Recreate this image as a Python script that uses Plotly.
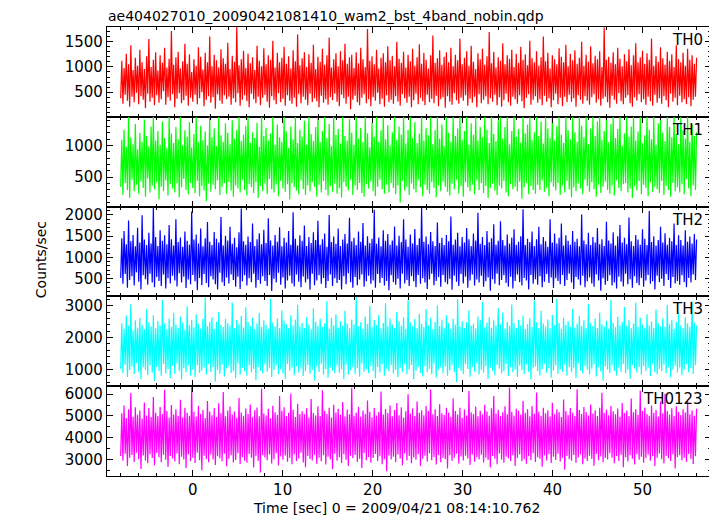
import numpy as np
import plotly.graph_objects as go
from plotly.subplots import make_subplots

# ---------------- data (counts/sec) ----------------
t_start = -8.0
t_end = 56.0

TH0 = [380, 1120, 270, 980, 450, 1260, 330, 1050, 210, 1430, 410, 940, 300, 1180, 490, 1020,
       260, 1340, 420, 1090, 350, 960, 180, 1210, 470, 1550, 310, 1000, 390, 1140, 240, 1290,
       440, 930, 290, 1230, 360, 1080, 520, 1380, 250, 990, 400, 1160, 330, 1710, 460, 1040,
       200, 1190, 370, 1300, 480, 970, 280, 1110, 340, 1460, 430, 1060, 230, 1250, 390, 900,
       310, 1150, 450, 1020, 260, 1390, 380, 1200, 500, 950, 220, 1280, 350, 1090, 420, 1600,
       290, 1010, 400, 1240, 170, 1130, 460, 990, 330, 1350, 270, 1170, 440, 1060, 360, 1480,
       410, 960, 250, 1220, 380, 1100, 300, 1790, 480, 1030, 230, 1150, 350, 1320, 440, 980,
       320, 1260, 200, 1070, 470, 1190, 360, 940, 280, 1420, 410, 1120, 240, 1010, 390, 1370,
       450, 1050, 310, 1230, 190, 1140, 420, 1520, 340, 990, 260, 1280, 480, 1090, 300, 1180,
       370, 1400, 230, 1060, 440, 1210, 330, 970, 270, 1330, 390, 1110, 210, 1640, 460, 1030,
       280, 1170, 410, 1290, 350, 1000, 240, 1250, 470, 1080, 300, 1440, 380, 960, 320, 1200,
       200, 1100, 430, 1360, 290, 1040, 360, 1230, 250, 1580, 400, 990, 340, 1150, 470, 1270,
       310, 1010, 220, 1310, 450, 1130, 380, 1460, 270, 1060, 410, 1190, 160, 1240, 350, 980,
       430, 1290, 300, 1070, 240, 1380, 390, 1150, 460, 1000, 280, 1750, 360, 1120, 220, 1210,
       400, 1050, 330, 1340, 490, 970, 260, 1180, 370, 1270, 210, 1090, 440, 1410, 300, 1130,
       350, 1220, 270, 1010, 420, 1500, 310, 1160, 230, 1080, 460, 1300, 380, 990, 290, 1240,
       410, 1110, 200, 1360, 340, 1020, 470, 1190, 260, 1450, 390, 1060, 320, 1280, 240, 1140,
       450, 970, 300, 1230, 370, 1620, 280, 1080, 430, 1170, 220, 1330, 360, 1040, 400, 1200,
       190, 1290, 420, 1090, 310, 1380, 250, 1010, 480, 1240, 340, 1130, 270, 1560, 390, 1050,
       330, 1180, 440, 1310, 230, 1020, 370, 1420, 290, 1100, 410, 960, 200, 1270, 460, 1150,
       280, 1360, 350, 1040, 420, 1210, 260, 1690, 380, 1070, 310, 1300, 450, 990, 240, 1190,
       400, 1120, 210, 1470, 340, 1050, 470, 1230, 300, 1160, 230, 1340, 410, 1000, 360, 1260,
       270, 1080, 440, 1400, 320, 1140, 180, 1250, 390, 1030, 460, 1520, 250, 1170, 350, 1090,
       420, 1310, 290, 1020, 360, 1190, 240, 1600, 430, 1110, 310, 1280, 380, 970, 200, 1230,
       340, 1150, 470, 1050, 260, 1370, 390, 1200, 220, 1090, 410, 1440, 300, 1010, 450, 1260,
       310, 1130, 380, 1330, 210, 1060, 440, 1180, 350, 1500, 270, 1020, 420, 1240, 330, 1100,
       250, 1410, 400, 1070, 460, 1220, 290, 1150, 360, 1310, 230, 1000, 370, 1780, 410, 1140,
       300, 1200, 190, 1080, 430, 1290, 350, 1050, 270, 1380, 480, 1160, 320, 1010, 260, 1250,
       390, 1110, 440, 1350, 280, 1030, 210, 1230, 400, 1470, 330, 1090, 460, 1190, 300, 1320,
       360, 1060, 250, 1270, 410, 1140, 320, 1560, 230, 1020, 450, 1210, 290, 1100, 380, 1390,
       270, 1170, 420, 1040, 340, 1300, 200, 1120, 470, 1250, 310, 1000, 390, 1430, 240, 1150,
       430, 1090, 300, 1280, 360, 1020, 260, 1360, 400, 1140, 220, 1230, 350, 1060, 410, 1180]

TH1 = [350, 1090, 220, 1250, 410, 980, 300, 1460, 170, 1130, 460, 1020, 280, 1340, 380, 940,
       240, 1200, 430, 1060, 330, 1410, 190, 1150, 480, 990, 260, 1300, 370, 1460, 310, 1080,
       420, 1230, 150, 1010, 350, 1380, 280, 1120, 450, 960, 210, 1460, 390, 1190, 320, 1040,
       260, 1290, 400, 1100, 180, 1460, 340, 1000, 470, 1240, 300, 1140, 230, 1370, 410, 970,
       330, 1180, 250, 1460, 440, 1050, 200, 1310, 360, 1090, 290, 1220, 120, 1000, 400, 1460,
       270, 1130, 380, 1270, 310, 990, 450, 1460, 220, 1160, 350, 1060, 410, 1350, 240, 1200,
       430, 1020, 290, 1400, 190, 1110, 370, 1250, 320, 1460, 260, 1070, 460, 1170, 300, 1310,
       210, 1460, 390, 1040, 340, 1210, 250, 1120, 420, 1360, 170, 980, 360, 1460, 280, 1150,
       400, 1280, 230, 1080, 470, 1190, 310, 1460, 260, 1010, 380, 1330, 200, 1130, 440, 1060,
       320, 1460, 270, 1220, 390, 960, 150, 1300, 410, 1100, 340, 1460, 290, 1040, 230, 1250,
       450, 1140, 310, 1390, 220, 1010, 370, 1460, 280, 1180, 420, 1070, 350, 1290, 190, 1460,
       380, 1050, 260, 1230, 440, 1460, 300, 1120, 210, 1340, 360, 990, 270, 1460, 400, 1170,
       240, 1260, 330, 1030, 180, 1460, 420, 1150, 350, 1080, 290, 1420, 460, 1200, 220, 1010,
       370, 1460, 300, 1110, 410, 1280, 250, 1050, 190, 1460, 390, 1190, 320, 970, 430, 1360,
       280, 1140, 200, 1460, 350, 1060, 460, 1240, 310, 1460, 240, 1100, 380, 1320, 260, 1000,
       410, 1210, 330, 1460, 230, 1090, 370, 1300, 100, 1170, 440, 1460, 290, 1030, 350, 1250,
       220, 1460, 400, 1120, 310, 1370, 260, 1040, 450, 1190, 340, 1460, 200, 1080, 380, 1280,
       300, 1160, 240, 1460, 420, 1020, 330, 1240, 180, 1460, 370, 1110, 280, 1330, 430, 990,
       350, 1460, 270, 1200, 210, 1060, 400, 1460, 310, 1150, 460, 1270, 240, 1460, 360, 1090,
       190, 1230, 420, 1460, 340, 1010, 280, 1350, 380, 1170, 230, 1460, 450, 1080, 300, 1290,
       410, 1130, 250, 1460, 360, 1250, 170, 1040, 330, 1460, 400, 1180, 290, 1070, 220, 1400,
       370, 1460, 320, 1110, 440, 1290, 260, 1460, 200, 1020, 390, 1230, 310, 1460, 350, 1140,
       280, 1260, 430, 1050, 160, 1460, 340, 1190, 410, 1330, 230, 1460, 360, 1090, 300, 1210,
       240, 1460, 380, 1150, 300, 1380, 450, 1030, 270, 1460, 330, 1270, 200, 1120, 420, 1460,
       350, 1080, 290, 1300, 410, 1460, 220, 1170, 370, 1040, 260, 1460, 440, 1240, 310, 1100,
       180, 1460, 340, 1210, 280, 1060, 400, 1460, 320, 1310, 230, 1130, 460, 1460, 360, 1020,
       270, 1270, 420, 1460, 310, 1150, 190, 1380, 380, 1460, 250, 1090, 350, 1230, 430, 1460,
       300, 1050, 240, 1340, 370, 1460, 210, 1120, 450, 1260, 330, 1460, 280, 1000, 390, 1190,
       410, 1460, 260, 1140, 320, 1300, 170, 1460, 360, 1080, 290, 1220, 440, 1460, 230, 1040,
       380, 1160, 330, 1460, 200, 1250, 420, 1100, 270, 1460, 350, 1010, 310, 1350, 250, 1460,
       440, 1200, 220, 1070, 360, 1460, 300, 1290, 190, 1130, 410, 1460, 280, 1180, 340, 1020,
       260, 1460, 390, 1240, 230, 1110, 470, 1460, 320, 1060, 200, 1330, 370, 1150, 300, 1210]

TH2 = [520, 1450, 380, 1620, 610, 1310, 290, 1870, 470, 1380, 560, 1530, 340, 1260, 650, 1700,
       430, 1350, 250, 1990, 580, 1420, 490, 1290, 360, 1580, 620, 1330, 410, 2190, 300, 1480,
       540, 1270, 450, 1640, 330, 1390, 600, 1520, 270, 1310, 510, 1760, 390, 1430, 570, 1280,
       460, 1900, 320, 1360, 630, 1470, 410, 1250, 550, 1610, 280, 1390, 480, 1300, 370, 2080,
       590, 1420, 440, 1540, 230, 1330, 520, 1680, 350, 1260, 610, 1450, 400, 1830, 300, 1370,
       560, 1290, 480, 1600, 370, 1440, 250, 1350, 640, 1950, 420, 1280, 330, 1510, 530, 1400,
       390, 1720, 600, 1320, 470, 1460, 310, 1240, 550, 1590, 260, 2150, 440, 1380, 580, 1300,
       340, 1490, 510, 1360, 420, 1800, 620, 1270, 290, 1430, 470, 1570, 380, 1310, 560, 1650,
       450, 1340, 330, 1920, 590, 1400, 210, 1280, 500, 1530, 410, 1370, 640, 1710, 360, 1260,
       530, 1460, 270, 1350, 460, 1620, 570, 1300, 390, 2060, 320, 1440, 600, 1280, 430, 1520,
       300, 1390, 550, 1750, 410, 1270, 490, 1480, 240, 1340, 620, 1590, 350, 1410, 460, 1860,
       580, 1300, 380, 1430, 520, 1560, 280, 1250, 450, 2000, 600, 1360, 330, 1490, 510, 1320,
       400, 1680, 470, 1270, 250, 1420, 560, 1550, 370, 1330, 630, 1930, 420, 1380, 290, 1460,
       540, 1290, 350, 1610, 480, 1370, 600, 1810, 310, 1280, 440, 1500, 570, 1340, 380, 1440,
       460, 2120, 290, 1320, 610, 1470, 400, 1260, 520, 1640, 340, 1390, 450, 1550, 230, 1300,
       580, 1400, 420, 1730, 360, 1280, 500, 1510, 270, 1360, 620, 1900, 390, 1420, 470, 1250,
       330, 1540, 560, 1330, 440, 1670, 300, 1290, 590, 1450, 380, 2170, 510, 1370, 410, 1490,
       260, 1310, 480, 1600, 620, 1380, 350, 1270, 450, 1820, 540, 1340, 310, 1460, 590, 1290,
       420, 1530, 370, 1380, 500, 1960, 240, 1300, 570, 1420, 430, 1580, 330, 1260, 610, 1480,
       390, 1350, 550, 1690, 290, 1430, 460, 1270, 600, 1560, 340, 1400, 480, 2050, 410, 1320,
       570, 1480, 310, 1290, 440, 1620, 530, 1360, 220, 1450, 490, 1780, 380, 1300, 620, 1390,
       350, 1850, 470, 1410, 580, 1280, 400, 1540, 310, 1330, 550, 1470, 270, 1660, 450, 1300,
       600, 1370, 420, 1500, 340, 2130, 520, 1290, 460, 1440, 250, 1360, 590, 1610, 380, 1270,
       490, 1430, 360, 1720, 560, 1310, 300, 1480, 430, 1380, 610, 1250, 400, 1900, 530, 1350,
       280, 1560, 510, 1330, 450, 1460, 370, 1800, 590, 1280, 330, 1520, 470, 1390, 620, 1300,
       410, 1620, 260, 1370, 540, 1440, 480, 1260, 350, 2010, 570, 1400, 300, 1310, 440, 1580,
       530, 1290, 390, 1480, 310, 1350, 600, 1690, 460, 1310, 220, 1430, 510, 1270, 360, 1840,
       450, 1400, 580, 1330, 340, 1590, 410, 1280, 270, 1500, 550, 1760, 430, 1350, 320, 1460,
       620, 1310, 370, 1940, 490, 1380, 290, 1270, 560, 1530, 400, 1420, 350, 1300, 520, 1660,
       310, 1440, 460, 1290, 590, 2090, 380, 1360, 440, 1500, 250, 1280, 570, 1410, 420, 1720,
       500, 1350, 330, 1570, 610, 1300, 470, 1460, 280, 1380, 540, 1800, 390, 1290, 450, 1520,
       360, 1410, 580, 1280, 420, 1640, 300, 1370, 520, 1490, 410, 1330, 600, 1550, 470, 1420]

TH3 = [1020, 2450, 880, 2280, 1150, 2690, 760, 2370, 980, 3050, 1090, 2230, 850, 2540, 1200, 2310,
       930, 2620, 700, 2400, 1060, 2260, 990, 2890, 820, 2480, 1130, 2350, 900, 2700, 640, 2290,
       1080, 2520, 950, 2380, 790, 3180, 1170, 2440, 870, 2260, 1010, 2600, 730, 2340, 1110, 2780,
       860, 2410, 1190, 2300, 960, 2650, 680, 2470, 1040, 2250, 910, 2980, 1120, 2390, 810, 2560,
       1000, 2320, 750, 2730, 1140, 2430, 890, 2280, 970, 2580, 1060, 3260, 840, 2360, 1180, 2490,
       920, 2640, 1070, 2270, 620, 2500, 990, 2810, 860, 2400, 1150, 2330, 780, 2590, 1030, 2460,
       1100, 2380, 890, 3100, 960, 2290, 720, 2550, 1190, 2420, 830, 2680, 1050, 2310, 940, 2950,
       800, 2500, 1130, 2360, 900, 2620, 1010, 2270, 670, 2440, 1080, 2770, 950, 2330, 870, 2540,
       1160, 2400, 930, 2280, 1040, 3220, 760, 2470, 980, 2350, 1120, 2610, 850, 2300, 1000, 2860,
       880, 2530, 710, 2420, 1170, 2290, 960, 2700, 1050, 2380, 820, 2560, 1100, 3030, 900, 2340,
       1030, 2460, 790, 2300, 940, 2640, 1140, 2410, 870, 2260, 990, 2920, 650, 2500, 1090, 2370,
       920, 2590, 1180, 2330, 840, 2450, 1010, 3140, 740, 2280, 1060, 2620, 960, 2390, 880, 2730,
       1120, 2310, 900, 2520, 1000, 2380, 690, 2840, 1150, 2440, 830, 2300, 970, 2570, 1070, 2410,
       860, 3270, 1040, 2350, 770, 2480, 1190, 2270, 930, 2660, 1010, 2430, 880, 2990, 1110, 2320,
       950, 2550, 720, 2390, 1080, 2710, 900, 2290, 1160, 2460, 810, 3080, 1020, 2360, 940, 2600,
       1130, 2420, 870, 2300, 990, 2810, 760, 2510, 1050, 2370, 920, 2640, 1170, 2280, 850, 3190,
       1000, 2470, 1140, 2350, 680, 2580, 960, 2290, 1070, 2750, 890, 2430, 780, 2330, 1100, 2900,
       910, 2380, 1020, 2620, 850, 2270, 1180, 2490, 740, 3010, 990, 2360, 1060, 2540, 880, 2310,
       1090, 2700, 800, 2450, 970, 2280, 1130, 2590, 920, 2400, 600, 3210, 1040, 2340, 950, 2510,
       860, 2300, 1160, 2480, 1010, 2860, 770, 2370, 1080, 2430, 930, 2290, 1190, 2660, 840, 2550,
       990, 3120, 900, 2320, 1110, 2470, 710, 2640, 1050, 2310, 960, 2540, 820, 2390, 1140, 2930,
       1030, 2410, 870, 2780, 940, 2280, 1170, 2500, 790, 2360, 1070, 3040, 910, 2450, 1000, 2300,
       760, 2560, 1120, 2380, 980, 2690, 850, 2270, 1160, 2420, 930, 2610, 680, 2330, 1060, 3170,
       1090, 2480, 950, 2300, 820, 2840, 1010, 2440, 1180, 2350, 890, 2570, 1040, 2290, 740, 2720,
       970, 2390, 1130, 3230, 860, 2460, 1000, 2280, 920, 2620, 1150, 2400, 800, 2510, 1080, 2340,
       910, 2900, 1050, 2310, 730, 2430, 1190, 2680, 960, 2360, 870, 2540, 1110, 2290, 990, 3060,
       840, 2450, 1020, 2370, 1160, 2600, 780, 2300, 1070, 2790, 940, 2420, 660, 2350, 1100, 2530,
       1000, 2280, 890, 3190, 1130, 2460, 950, 2320, 810, 2650, 1060, 2390, 920, 2500, 1170, 2960,
       870, 2370, 990, 2560, 710, 2290, 1140, 2440, 1030, 3100, 900, 2340, 1080, 2620, 830, 2410,
       1110, 2290, 960, 2730, 1050, 2380, 790, 2510, 1180, 2300, 920, 2880, 850, 2450, 1010, 2350,
       940, 2600, 1150, 2330, 880, 3020, 1070, 2420, 750, 2560, 1000, 2280, 1120, 2490, 900, 2760,
       1060, 2390, 820, 2300, 990, 2640, 1170, 2450, 910, 2340, 1040, 3130, 860, 2470, 1130, 2380]

TH0123 = [3150, 5120, 2940, 5480, 3260, 4900, 2700, 5310, 3080, 6050, 3200, 4960, 2880, 5400, 3310, 5050,
          3010, 5250, 2560, 4880, 3180, 5620, 2950, 5020, 2820, 5360, 3240, 4950, 3060, 5870, 2730, 5150,
          3290, 4990, 3100, 5410, 2870, 5080, 3210, 6200, 2980, 5230, 2650, 4920, 3150, 5500, 3040, 5060,
          2900, 5300, 3270, 5010, 2780, 5740, 3120, 4930, 3000, 5380, 2600, 5140, 3230, 5010, 2920, 6330,
          3080, 5180, 2830, 4970, 3300, 5450, 2960, 5090, 2500, 5280, 3170, 4900, 3020, 5690, 2870, 5200,
          3220, 5030, 2990, 5360, 2740, 4950, 3140, 5580, 3050, 5120, 2910, 6100, 3260, 4980, 2680, 5250,
          3030, 5430, 3190, 5060, 2860, 5200, 2970, 4910, 3280, 5820, 2790, 5150, 3110, 5010, 2940, 5340,
          2850, 5090, 3250, 5520, 3070, 4940, 2620, 5260, 3160, 5390, 2930, 4980, 2400, 6260, 3200, 5110,
          3090, 5020, 2960, 5330, 3230, 4890, 2810, 5470, 3010, 5170, 3280, 5040, 2720, 5910, 3130, 5240,
          2980, 5400, 3180, 5000, 2890, 5150, 3060, 6030, 2770, 5280, 3240, 4950, 2920, 5560, 3040, 5090,
          3300, 5210, 2860, 5070, 2640, 5350, 3150, 4930, 3020, 5780, 2950, 5130, 3210, 5020, 2800, 5440,
          3070, 5000, 2910, 6180, 3190, 5240, 2760, 5090, 3120, 5370, 3000, 4920, 2550, 5510, 3260, 5160,
          2940, 5330, 3100, 5050, 2830, 5640, 3230, 4970, 2980, 5290, 2700, 5080, 3170, 6290, 3050, 5010,
          3200, 5150, 2880, 5420, 3030, 4960, 2600, 5250, 3290, 5090, 2960, 5710, 3110, 5190, 2840, 4940,
          3060, 5360, 3250, 5020, 2920, 5180, 3140, 6120, 2780, 5060, 3010, 5320, 2450, 5130, 3180, 5480,
          2990, 4980, 3120, 5270, 2870, 5590, 3220, 5030, 3040, 5400, 2730, 4920, 3270, 5210, 2950, 6000,
          3150, 5100, 2820, 5340, 3090, 4990, 2980, 5660, 3240, 5140, 2690, 5260, 3030, 5030, 3170, 5450,
          2900, 5220, 3280, 6220, 2960, 5070, 3110, 5310, 2760, 5000, 3200, 5540, 2870, 5120, 3060, 5040,
          3010, 5380, 2580, 5150, 3190, 4960, 2930, 5800, 3080, 5230, 3260, 5060, 2810, 5370, 3130, 4910,
          2950, 5290, 3170, 5020, 3040, 6150, 2740, 5170, 3230, 5090, 2890, 5430, 3100, 4980, 3000, 5240,
          3210, 5060, 2860, 5510, 3080, 5200, 2970, 5010, 2620, 5350, 3150, 5920, 3030, 5110, 2780, 5280,
          3270, 5000, 2990, 5170, 2840, 5440, 3120, 5070, 3050, 6310, 2920, 5190, 3190, 5010, 2700, 5330,
          3060, 5240, 3220, 5050, 2910, 5690, 3000, 5150, 2800, 5300, 3140, 4980, 2960, 5460, 3280, 5100,
          2880, 6080, 3100, 5200, 3030, 5010, 2660, 5380, 3180, 5120, 2950, 5260, 3240, 4970, 2830, 5610,
          3120, 5070, 2970, 5310, 3260, 5180, 2900, 4950, 3070, 5750, 2520, 5230, 3160, 5040, 3010, 5360,
          2940, 5140, 3200, 5000, 2850, 6230, 3090, 5270, 3230, 5090, 2770, 5410, 3040, 5180, 2920, 5020,
          3170, 5520, 3020, 5110, 2710, 5260, 3250, 5000, 2960, 5370, 3130, 6060, 2870, 5150, 3060, 5290,
          2990, 5030, 3280, 5460, 3080, 5210, 2820, 5080, 3150, 5340, 2930, 4960, 3210, 5590, 2640, 5130,
          3100, 5250, 2900, 5000, 3190, 5800, 3030, 5170, 2760, 5300, 3240, 5050, 2980, 6170, 3120, 5220,
          2850, 5390, 3060, 5090, 3220, 5010, 2940, 5480, 3140, 5140, 2700, 5270, 3080, 4970, 3270, 5660,
          3000, 5120, 2810, 6020, 3160, 5230, 3050, 5060, 2920, 5350, 3230, 5000, 2580, 5440, 3110, 5180,
          3190, 5040, 2960, 5300, 3070, 5160, 2880, 5720, 3250, 5080, 3020, 5250, 2790, 5010, 3140, 5330]

series_names = ["TH0", "TH1", "TH2", "TH3", "TH0123"]
series_values = [TH0, TH1, TH2, TH3, TH0123]
series_colors = ["#ff0000", "#00ff00", "#0000ff", "#00ffff", "#ff00ff"]
y_ranges = [[12, 1790], [36, 1453], [85, 2195], [473, 3293], [2234, 6367]]
y_dticks = [500, 500, 500, 1000, 1000]
y_minor = [100, 100, 100, 200, 500]

title_text = "ae404027010_20090421081410_wam2_bst_4band_nobin.qdp"
x_title = "Time [sec] 0 = 2009/04/21 08:14:10.762"
y_title = "Counts/sec"

# ---------------- figure ----------------
FONT = "DejaVu Sans"
n = len(TH0)
t = np.linspace(t_start, t_end, n)

fig = make_subplots(rows=5, cols=1, shared_xaxes=True, vertical_spacing=0)

for i, (name, vals, col) in enumerate(zip(series_names, series_values, series_colors)):
    fig.add_trace(go.Scatter(x=t, y=vals, mode="lines",
                             line=dict(color=col, width=1.2, simplify=False),
                             name=name, showlegend=False, hoverinfo="skip"),
                  row=i + 1, col=1)
    fig.update_yaxes(range=y_ranges[i], dtick=y_dticks[i], tick0=0,
                     ticks="inside", ticklen=6, tickwidth=1, tickcolor="black",
                     minor=dict(dtick=y_minor[i], tick0=0, ticks="inside", ticklen=3,
                                tickcolor="black", showgrid=False),
                     showline=True, linecolor="black", linewidth=1.2, mirror="allticks",
                     showgrid=False, zeroline=False,
                     tickfont=dict(family=FONT, size=15, color="black"),
                     row=i + 1, col=1)
    fig.add_annotation(text=name, xref="paper", x=0.99, xanchor="right",
                       yref=f"y{'' if i == 0 else i + 1} domain", y=1, yanchor="top", yshift=-2,
                       showarrow=False, font=dict(family=FONT, size=15, color="black"))

fig.update_xaxes(range=[-9.52, 57.6], dtick=10, tick0=0,
                 ticks="inside", ticklen=6, tickwidth=1, tickcolor="black",
                 minor=dict(dtick=2, tick0=0, ticks="inside", ticklen=3, tickcolor="black",
                            showgrid=False),
                 showline=True, linecolor="black", linewidth=1.2, mirror="allticks",
                 showgrid=False, zeroline=False,
                 tickfont=dict(family=FONT, size=15, color="black"))

fig.add_annotation(text=title_text, xref="paper", yref="paper", x=0.0, y=1.0245,
                   xanchor="left", yanchor="middle", showarrow=False, borderpad=0,
                   font=dict(family=FONT, size=14, color="black"))
fig.add_annotation(text=x_title, xref="paper", yref="paper", x=0.48, y=-0.0713,
                   xanchor="center", yanchor="middle", showarrow=False,
                   font=dict(family=FONT, size=14, color="black"))
fig.add_annotation(text=y_title, xref="paper", yref="paper", x=-0.109, y=0.481,
                   xanchor="center", yanchor="middle", textangle=-90, showarrow=False,
                   font=dict(family=FONT, size=14, color="black"))

# the page body has an 8px margin, so the figure is sized/offset to land on the reference pixels
fig.update_layout(width=709, height=508, margin=dict(l=99, r=6, t=19, b=40),
                  plot_bgcolor="white", paper_bgcolor="white",
                  font=dict(family=FONT, color="black"))

fig.write_html("out.html")
